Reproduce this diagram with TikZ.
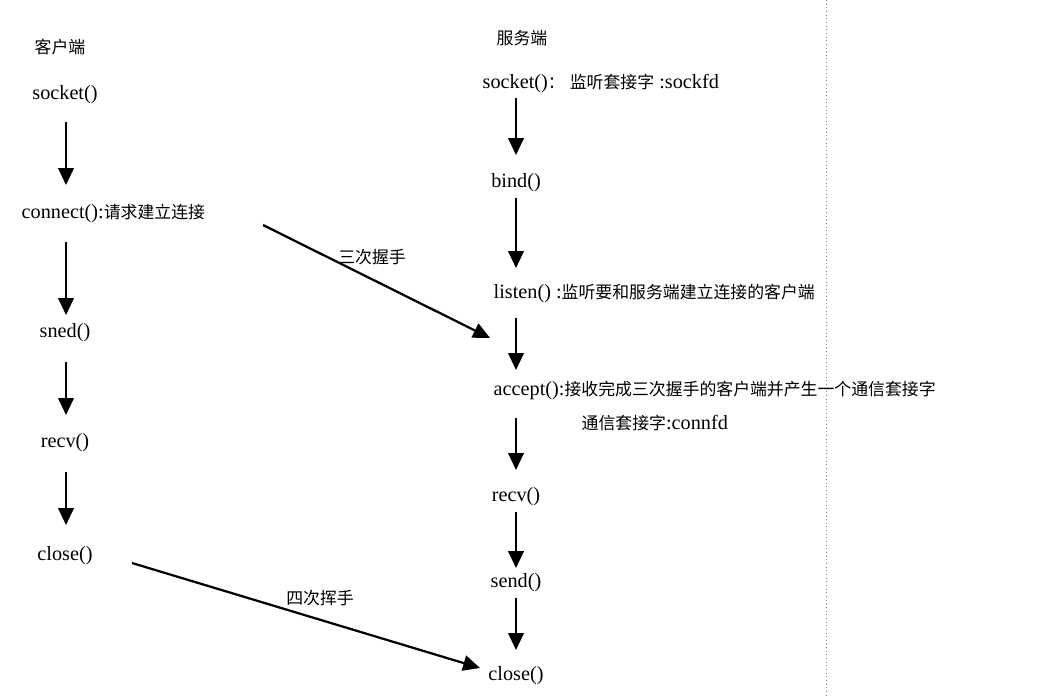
\documentclass[tikz,border=0pt]{standalone}
\usepackage{fontspec}
\setmainfont[Scale=1.2]{Liberation Serif}
\newfontfamily\cjk{Noto Sans CJK SC}
\usetikzlibrary{arrows.meta}

\begin{document}
\begin{tikzpicture}[x=0.025cm, y=-0.025cm, every node/.style={font=\fontsize{12}{15}\selectfont, inner sep=1pt},
  flow/.style={-{Triangle[length=12pt,width=11pt]}, line width=1.6pt},
  lbl/.style={anchor=west}]
\useasboundingbox (0,0) rectangle (1040,697);
% dotted divider
\draw[gray, dotted, line width=0.6pt] (826,0) -- (826,697);

% client
\node[lbl] (ctitle) at (33,47) {\cjk 客户端};
\node (csock) at (65,95) {socket()};
\node[lbl] (cconn) at (20,214) {connect():{\cjk 请求建立连接}};
\node (csend) at (65,333) {sned()};
\node (crecv) at (65,443) {recv()};
\node (cclose) at (65,556) {close()};

% server
\node[lbl] (stitle) at (495,38) {\cjk 服务端};
\node[lbl] (ssock) at (481,84) {socket(){\cjk ：}\ {\cjk 监听套接字} :sockfd};
\node (sbind) at (516,183) {bind()};
\node[lbl] (slisten) at (492,293) {listen() :{\cjk 监听要和服务端建立连接的客户端}};
\node[lbl] (saccept) at (492,390) {accept():{\cjk 接收完成三次握手的客户端并产生一个通信套接字}};
\node[lbl] (sconn) at (580,423) {{\cjk 通信套接字}:connfd};
\node (srecv) at (516,497) {recv()};
\node (ssend) at (516,583) {send()};
\node (sclose) at (516,676) {close()};

% client arrows
\draw[flow] (66,122) -- (66,185);
\draw[flow] (66,242) -- (66,315);
\draw[flow] (66,362) -- (66,415);
\draw[flow] (66,472) -- (66,525);

% server arrows
\draw[flow] (516,98) -- (516,155);
\draw[flow] (516,198) -- (516,268);
\draw[flow] (516,318) -- (516,370);
\draw[flow] (516,418) -- (516,470);
\draw[flow] (516,512) -- (516,568);
\draw[flow] (516,598) -- (516,650);

% handshakes
\draw[flow] (263,225) -- (490,338);
\node (hs3) at (372,257) {\cjk 三次握手};
\draw[flow] (132,563) -- (480,668);
\node (hs4) at (320,598) {\cjk 四次挥手};
\end{tikzpicture}
\end{document}
